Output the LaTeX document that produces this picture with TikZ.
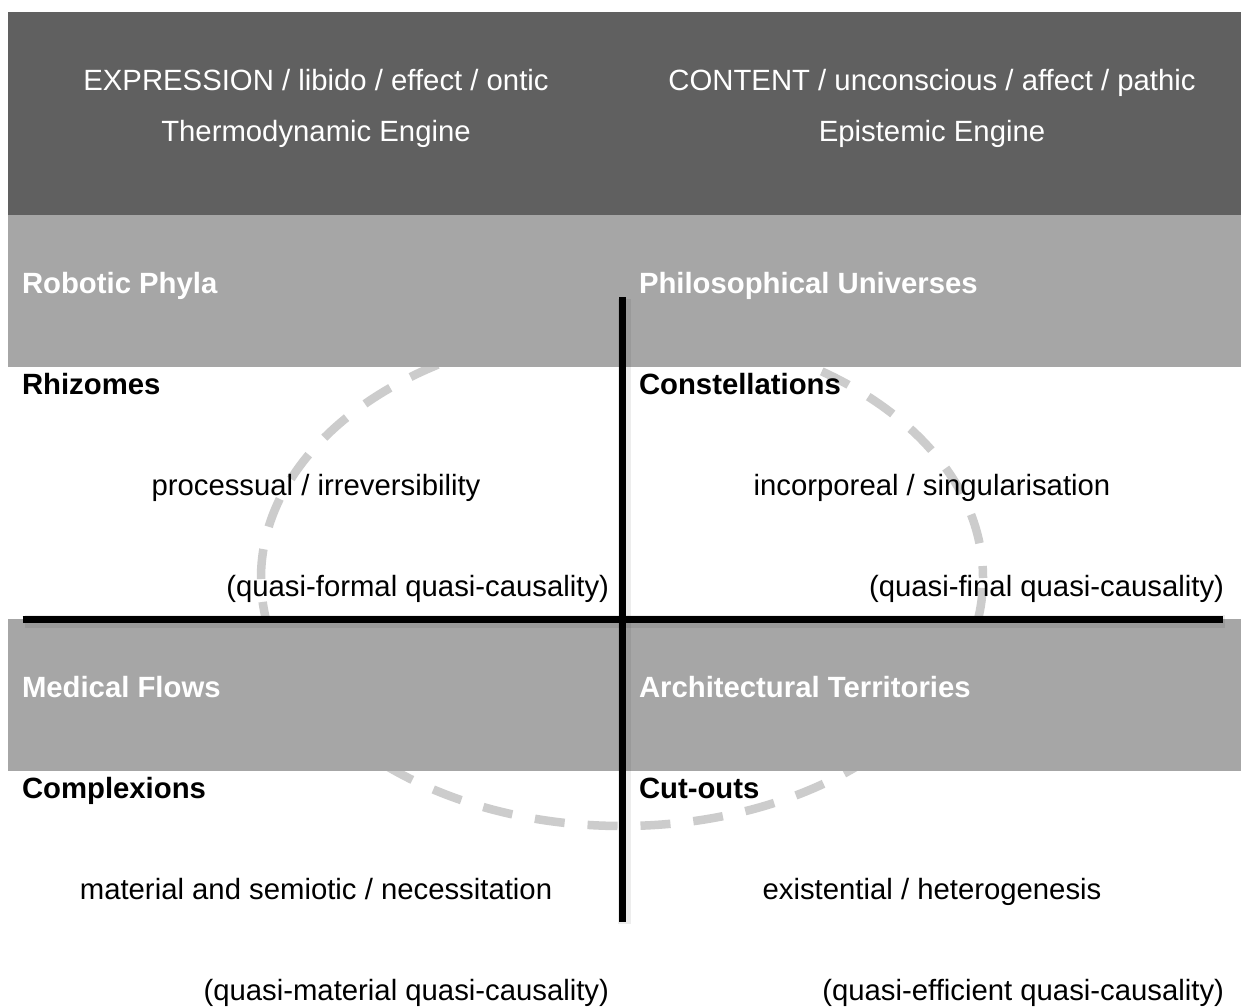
\documentclass[tikz,border=0pt]{standalone}
\usepackage{fontspec}
\setmainfont{Liberation Sans}
\definecolor{darkband}{HTML}{606060}
\definecolor{lightband}{HTML}{A6A6A6}
\definecolor{ellgray}{HTML}{CCCCCC}
\begin{document}
\begin{tikzpicture}[x=1pt,y=-1pt,
  every node/.style={inner sep=0pt,outer sep=0pt,font=\fontsize{29.3}{35}\selectfont},
  head/.style={text=white},
  cat/.style={text=white,font=\fontsize{29.3}{35}\selectfont\bfseries,anchor=base west},
  sub/.style={text=black,font=\fontsize{29.3}{35}\selectfont\bfseries,anchor=base west},
  body/.style={text=black,anchor=base},
  cause/.style={text=black,anchor=base east},
  axis/.style={line width=7pt,black},
  axisshadow/.style={line width=13pt,black,opacity=0.07},
  ell/.style={draw=ellgray,line width=8.5pt,dash pattern=on 30pt off 23pt,dash phase=18pt}
]
\useasboundingbox (0,0) rectangle (1241,1008);
\fill[white] (0,0) rectangle (1241,1008);

% dashed ellipse (behind the bands)
\draw[ell] (622,578) ellipse [x radius=361pt, y radius=248pt];

% bands
\fill[darkband] (8,12) rectangle (1241,215);
\fill[lightband] (8,215) rectangle (1241,366.5);
\fill[lightband] (8,619) rectangle (1241,771);

% header
\node[head,anchor=base] (expr) at (316,90.5) {EXPRESSION / libido / effect / ontic};
\node[head,anchor=base] (thermo) at (316,141.5) {Thermodynamic Engine};
\node[head,anchor=base] (cont) at (932,90.5) {CONTENT / unconscious / affect / pathic};
\node[head,anchor=base] (epist) at (932,141.5) {Epistemic Engine};

% quadrant titles
\node[cat] (robotic) at (22,293.5) {Robotic Phyla};
\node[cat] (philo) at (639,293.5) {Philosophical Universes};
\node[sub] (rhiz) at (22,394.5) {Rhizomes};
\node[sub] (const) at (639,394.5) {Constellations};
\node[body] (proc) at (316,495) {processual / irreversibility};
\node[body] (incorp) at (932,495) {incorporeal / singularisation};
\node[cause] (qformal) at (609,596) {(quasi-formal quasi-causality)};
\node[cause] (qfinal) at (1224,596) {(quasi-final quasi-causality)};

\node[cat] (medical) at (22,697) {Medical Flows};
\node[cat] (archi) at (639,697) {Architectural Territories};
\node[sub] (compl) at (22,798) {Complexions};
\node[sub] (cutouts) at (639,798) {Cut-outs};
\node[body] (mat) at (316,899) {material and semiotic / necessitation};
\node[body] (exist) at (932,899) {existential / heterogenesis};
\node[cause] (qmat) at (609,1000) {(quasi-material quasi-causality)};
\node[cause] (qeff) at (1224,1000) {(quasi-efficient quasi-causality)};

% axes
\coordinate (vtop) at (622.5,297);
\coordinate (vbot) at (622.5,921.5);
\coordinate (hleft) at (22.5,619);
\coordinate (hright) at (1222.5,619);
\draw[axisshadow] ([shift={(2,2)}]vtop) -- ([shift={(2,2)}]vbot);
\draw[axisshadow] ([shift={(2,2)}]hleft) -- ([shift={(2,2)}]hright);
\draw[axis] (vtop) -- (vbot);
\draw[axis] (hleft) -- (hright);
\end{tikzpicture}
\end{document}
